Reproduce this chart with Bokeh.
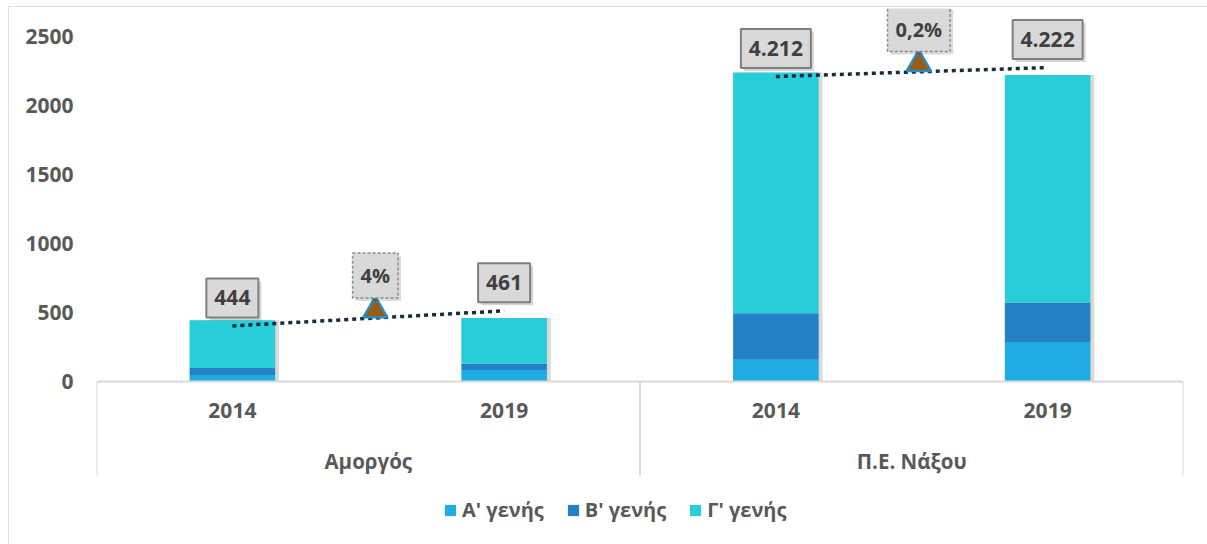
from bokeh.plotting import figure
from bokeh.models import (ColumnDataSource, FactorRange, Range1d, FixedTicker,
                          Span, Legend, LegendItem)
from bokeh.core.properties import value
from bokeh.transform import dodge
from bokeh.embed import file_html
from bokeh.resources import INLINE

# ---------------- data ----------------
groups = ["Αμοργός", "Π.Ε. Νάξου"]
years = ["2014", "2019"]
series_names = ["Α' γενής", "Β' γενής", "Γ' γενής"]
gen_a = [47, 83, 158, 287]
gen_b = [51, 46, 337, 285]
gen_c = [346, 332, 1745, 1650]
trend_labels = ["444", "461", "4.212", "4.222"]
trend_y = [403, 512, 2210, 2275]
change_labels = ["4%", "0,2%"]
y_ticks = [0, 500, 1000, 1500, 2000, 2500]

# ---------------- styling ----------------
FONT = value("Open Sans")
TXT = "#595959"
COLORS = ["#1EACE3", "#2581C5", "#28CDD7"]
GRID = "#d9d9d9"
W, H = 1199, 538
y_start, y_end = -1181, 2703
frame_h = H - 2
ppu = frame_h / (y_end - y_start)
mid_shift = 0.026  # small right shift of change markers within a group

factors = [(g, y) for g in groups for y in years]
totals = [a + b + c for a, b, c in zip(gen_a, gen_b, gen_c)]

p = figure(x_range=FactorRange(*factors, factor_padding=0, group_padding=0,
                               subgroup_padding=0, range_padding=0),
           y_range=Range1d(y_start, y_end), width=W, height=H,
           output_backend="svg", toolbar_location=None, x_axis_location=None,
           min_border_left=88, min_border_right=24, min_border_top=2,
           min_border_bottom=0,
           styles={"margin-left": "8px", "margin-top": "6px",
                   "outline": "1px solid #d9d9d9", "outline-offset": "-1px"})
p.outline_line_color = None
p.grid.grid_line_color = None

src = ColumnDataSource(dict(x=factors, a=gen_a, b=gen_b, c=gen_c, total=totals))

# bar shadows
p.vbar(x=dodge("x", 0.014, range=p.x_range), top="total", bottom=0, width=0.315,
       source=src, fill_color="#a0a0a0", fill_alpha=0.4, line_color=None)

rs = p.vbar_stack(["a", "b", "c"], x="x", width=0.315, source=src,
                  fill_color=COLORS, line_color=None)

# category table lines
p.add_layout(Span(location=0, dimension="width", line_color=GRID, line_width=2))
bounds = [0]
for g in groups:
    bounds.append(bounds[-1] + len(years))
p.segment(x0=bounds, y0=[0] * len(bounds), x1=bounds,
          y1=[-94 / ppu] * len(bounds), line_color=GRID, line_width=2)

# category labels
p.text(x=factors, y=[0] * len(factors), text=[f[1] for f in factors], y_offset=29,
       text_align="center", text_baseline="middle", text_font=FONT,
       text_font_style="bold", text_font_size="21px", text_color=TXT)
p.text(x=groups, y=[0] * len(groups), text=groups, y_offset=79,
       text_align="center", text_baseline="middle", text_font=FONT,
       text_font_style="bold", text_font_size="20.5px", text_color=TXT)

# trend lines
x0 = [(g, years[0]) for g in groups]
x1 = [(g, years[-1]) for g in groups]
y0 = [trend_y[i * 2] for i in range(len(groups))]
y1 = [trend_y[i * 2 + 1] for i in range(len(groups))]
p.segment(x0=x0, y0=y0, x1=x1, y1=y1, line_color="#1C2B3A", line_width=3.5,
          line_dash="4 4")
mid = [(a + b) / 2 for a, b in zip(y0, y1)]
msrc = ColumnDataSource(dict(g=groups, tri=[m + 8 / ppu for m in mid], mid=mid,
                             lab=change_labels))
p.scatter(x=dodge("g", mid_shift, range=p.x_range), y="tri", source=msrc,
          marker="triangle", size=24, fill_color="#9A5B12",
          line_color="#2A8BBE", line_width=2.5)

# value label boxes (shadow + box)
p.text(x=factors, y=trend_y, text=trend_labels, x_offset=3, y_offset=-25,
       text_align="center", text_baseline="middle", text_font=FONT,
       text_font_style="bold", text_font_size="21px", text_alpha=0,
       background_fill_color="#000000", background_fill_alpha=0.16,
       border_line_color=None, padding=(8, 12))
p.text(x=factors, y=trend_y, text=trend_labels, y_offset=-28,
       text_align="center", text_baseline="middle", text_font=FONT,
       text_font_style="bold", text_font_size="21px", text_color="#404040",
       background_fill_color="#D9D9D9", border_line_color="#7F7F7F",
       border_line_width=2, padding=(8, 12))

# change label boxes
p.text(x=dodge("g", mid_shift, range=p.x_range), y="mid", text="lab", source=msrc,
       x_offset=3, y_offset=-40,
       text_align="center", text_baseline="middle", text_font=FONT,
       text_font_style="bold", text_font_size="20px", text_alpha=0,
       background_fill_color="#000000", background_fill_alpha=0.14,
       border_line_color=None, padding=(8, 9))
p.text(x=dodge("g", mid_shift, range=p.x_range), y="mid", text="lab", source=msrc,
       y_offset=-43,
       text_align="center", text_baseline="middle", text_font=FONT,
       text_font_style="bold", text_font_size="20px", text_color="#404040",
       background_fill_color="#D9D9D9", border_line_color="#8C8C8C",
       border_line_width=1.5, border_line_dash="3 2", padding=(8, 9))

# y axis
ax = p.yaxis[0]
ax.ticker = FixedTicker(ticks=y_ticks)
ax.axis_line_color = None
ax.major_tick_line_color = None
ax.minor_tick_line_color = None
ax.major_tick_out = 0
ax.major_tick_in = 0
ax.major_label_standoff = 23
ax.major_label_text_font = "Open Sans"
ax.major_label_text_font_style = "bold"
ax.major_label_text_font_size = "21px"
ax.major_label_text_color = TXT

# legend
legend = Legend(items=[LegendItem(label=n, renderers=[r]) for n, r in zip(series_names, rs)],
                orientation="horizontal", location=(347, 21), padding=0, margin=0,
                glyph_width=14, glyph_height=14, label_standoff=5, spacing=22,
                label_text_font="Open Sans", label_text_font_style="bold",
                label_text_font_size="20px", label_text_color=TXT,
                border_line_color=None, background_fill_alpha=0)
p.add_layout(legend)

open("out.html", "w").write(file_html(p, INLINE))
